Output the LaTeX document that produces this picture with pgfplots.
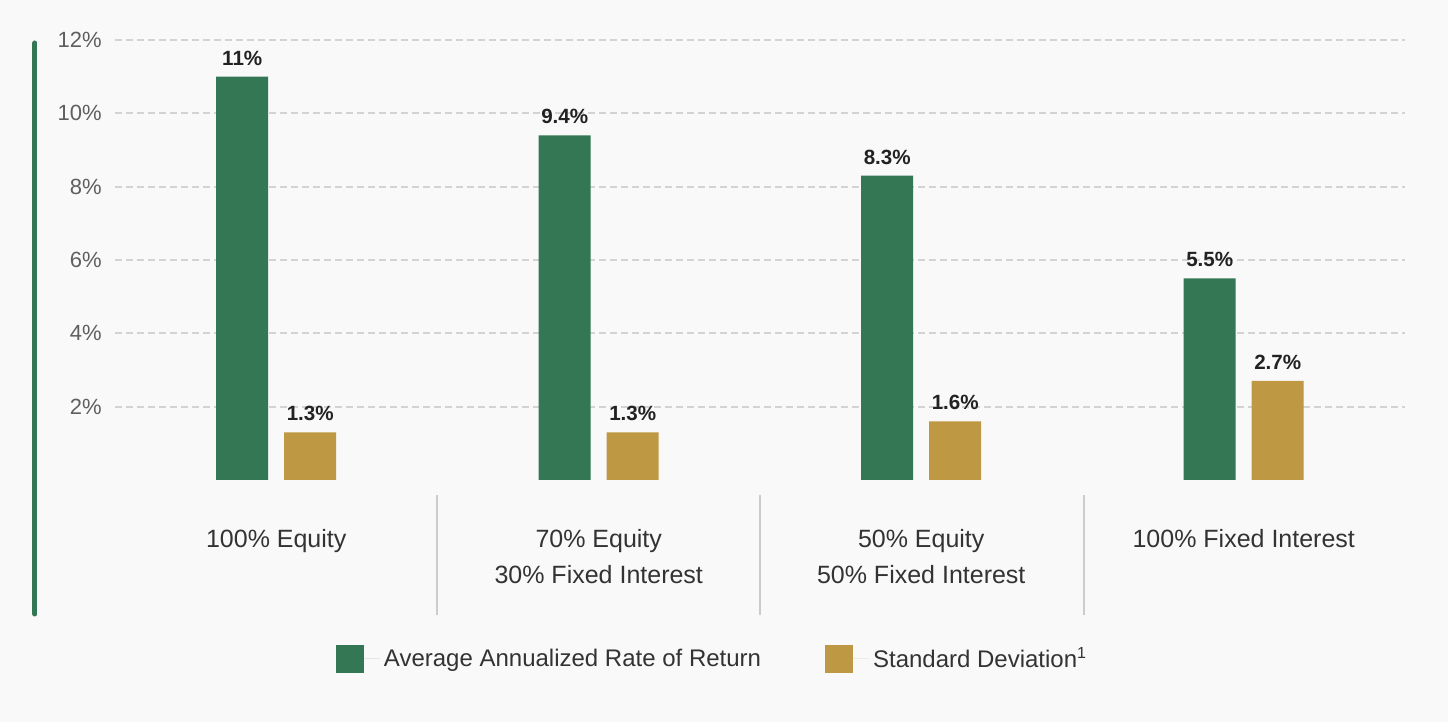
\documentclass[border=0pt]{standalone}
\usepackage{fontspec}
\setmainfont{Liberation Sans}
\usepackage{pgfplots}
\pgfplotsset{compat=1.18}
\definecolor{bg}{HTML}{F9F9F9}
\definecolor{grn}{HTML}{337755}
\definecolor{gld}{HTML}{BE9842}
\definecolor{txt}{HTML}{333333}
\definecolor{lbl}{HTML}{222222}
\definecolor{tickc}{HTML}{5F5F5F}
\definecolor{grd}{HTML}{D3D3D3}
\definecolor{sepc}{HTML}{CCCCCC}
\begin{document}
\begin{tikzpicture}
\fill[bg] (-57.5pt,-121pt) rectangle (666.5pt,240pt);
\useasboundingbox (-57.5pt,-121pt) rectangle (666.5pt,240pt);
\begin{axis}[at={(0pt,0pt)}, anchor=south west, scale only axis,
 width=645pt, height=220pt,
 xmin=-0.5, xmax=3.5, ymin=0, ymax=12,
 axis line style={draw=none}, major tick length=0pt,
 ytick={2,4,6,8,10,12}, yticklabels={2\%,4\%,6\%,8\%,10\%,12\%},
 yticklabel style={font=\fontsize{11}{13}\selectfont, text=tickc, inner sep=0pt, anchor=east, xshift=-6.5pt},
 xtick={0,1,2,3},
 xticklabels={100\% Equity, 70\% Equity\\30\% Fixed Interest, 50\% Equity\\50\% Fixed Interest, 100\% Fixed Interest},
 xticklabel style={align=center, font=\fontsize{12.5}{18}\selectfont, text=txt, inner sep=0pt, anchor=north, yshift=-24.5pt},
 ymajorgrids, grid style={grd, line width=1pt, dash pattern=on 3.5pt off 2pt},
 ybar, bar width=26pt,
 nodes near coords={\pgfplotspointmeta}, point meta=explicit symbolic,
 nodes near coords style={font=\fontsize{10.3}{12}\selectfont\bfseries, text=lbl, anchor=base, inner sep=0pt, yshift=5.8pt},
 legend columns=2,
 legend image code/.code={\path (0pt,0pt) -- (22pt,0pt); \fill[#1] (0pt,-7pt) rectangle (14pt,7pt);},
 legend style={at={(0.464,-0.4068)}, anchor=center, draw=none, fill=none,
   font=\fontsize{12}{14}\selectfont, text=txt,
   /tikz/every even column/.append style={column sep=30pt}},
]
\addplot[fill=grn, draw=none, bar shift=-17pt] coordinates {(0,11) [11\%] (1,9.4) [9.4\%] (2,8.3) [8.3\%] (3,5.5) [5.5\%]};
\addlegendentry{Average Annualized Rate of Return}
\addplot[fill=gld, draw=none, bar shift=17pt] coordinates {(0,1.3) [1.3\%] (1,1.3) [1.3\%] (2,1.6) [1.6\%] (3,2.7) [2.7\%]};
\addlegendentry{Standard Deviation\textsuperscript{1}}
\end{axis}
\draw[grn, line width=2.5pt, line cap=round] (-40pt,218.5pt) -- (-40pt,-67pt);
\foreach \x in {161,322.5,484.5}{\draw[sepc, line width=1pt] (\x pt,-7.5pt) -- (\x pt,-67.5pt);}
\end{tikzpicture}
\end{document}
